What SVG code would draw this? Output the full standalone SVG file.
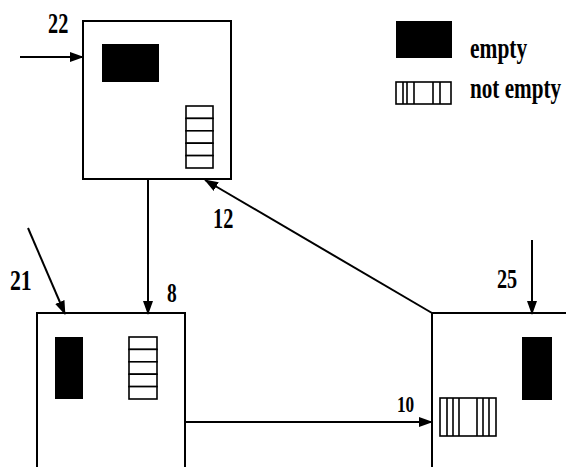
<svg xmlns="http://www.w3.org/2000/svg" width="566" height="467" viewBox="0 0 566 467">
<style>
.box{fill:#fff;stroke:#000;stroke-width:2}
.ln{fill:none;stroke:#000;stroke-width:2}
.blk{fill:#000}
.stk{fill:#fff;stroke:#000;stroke-width:1.6}
.lbl{font-family:"Liberation Serif",serif;font-weight:bold;fill:#000;font-size:29px}
</style>
<defs>
<marker id="ah" markerUnits="userSpaceOnUse" markerWidth="14" markerHeight="10" refX="13" refY="5" orient="auto">
<path d="M0,0 L14,5 L0,10 z" fill="#000"/>
</marker>
</defs>
<g id="connectors">
<line class="ln" x1="20" y1="57" x2="83" y2="57" marker-end="url(#ah)"/>
<line class="ln" x1="148" y1="179" x2="148" y2="314" marker-end="url(#ah)"/>
<line class="ln" x1="28" y1="228" x2="65" y2="314" marker-end="url(#ah)"/>
<line class="ln" x1="532" y1="240" x2="532" y2="314" marker-end="url(#ah)"/>
<line class="ln" x1="432" y1="313" x2="205" y2="180" marker-end="url(#ah)"/>
<line class="ln" x1="185" y1="422" x2="432" y2="422" marker-end="url(#ah)"/>
</g>
<g id="node22">
<rect class="box" x="83" y="21" width="148" height="158"/>
<rect class="blk" x="102" y="44" width="57" height="38"/>
<g class="stk">
<rect x="186" y="106" width="27" height="12.4"/>
<rect x="186" y="118.4" width="27" height="12.4"/>
<rect x="186" y="130.8" width="27" height="12.4"/>
<rect x="186" y="143.2" width="27" height="12.4"/>
<rect x="186" y="155.6" width="27" height="12.4"/>
</g>
<text class="lbl" transform="translate(48,33) scale(0.7,1)">22</text>
</g>
<g id="node21">
<path class="ln" d="M37,467 V313 H185 V467"/>
<rect class="blk" x="55" y="337" width="28" height="62"/>
<g class="stk">
<rect x="129" y="337" width="28" height="12.4"/>
<rect x="129" y="349.4" width="28" height="12.4"/>
<rect x="129" y="361.8" width="28" height="12.4"/>
<rect x="129" y="374.2" width="28" height="12.4"/>
<rect x="129" y="386.6" width="28" height="12.4"/>
</g>
<text class="lbl" transform="translate(10,290) scale(0.75,1)">21</text>
<text class="lbl" transform="translate(167,302) scale(0.72,1)" style="font-size:27px">8</text>
</g>
<g id="node25">
<path class="ln" d="M432,467 V313 H566"/>
<rect class="blk" x="522" y="337" width="30" height="63"/>
<rect class="stk" x="440" y="398" width="56" height="38"/>
<path class="stk" d="M447,398 V436 M453,398 V436 M459,398 V436 M477,398 V436 M483,398 V436 M489,398 V436"/>
<text class="lbl" transform="translate(497,288) scale(0.75,1)" style="font-size:27px">25</text>
<text class="lbl" transform="translate(397,412) scale(0.75,1)" style="font-size:23px">10</text>
</g>
<text class="lbl" transform="translate(213,228) scale(0.7,1)">12</text>
<g id="legend">
<rect class="blk" x="396" y="21" width="56" height="37"/>
<text class="lbl" transform="translate(470,58) scale(0.74,1)">empty</text>
<rect class="stk" x="396" y="82" width="55" height="22"/>
<path class="stk" d="M403,82 V104 M407,82 V104 M414,82 V104 M433,82 V104 M440,82 V104"/>
<text class="lbl" transform="translate(470,98) scale(0.73,1)">not empty</text>
</g>
</svg>
